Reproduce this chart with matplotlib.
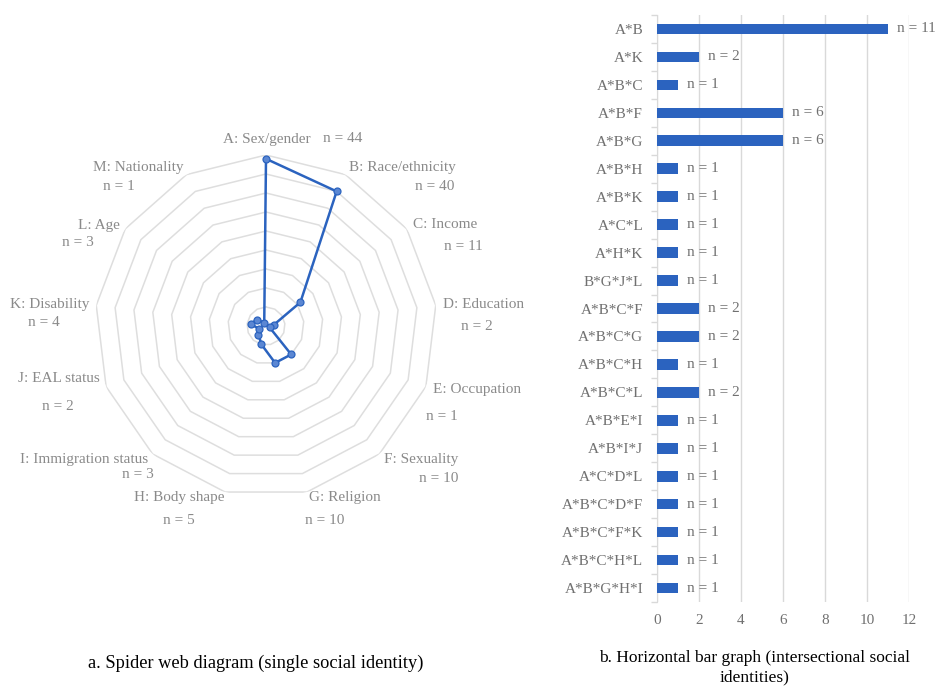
import numpy as np
import matplotlib
matplotlib.use("Agg")
import matplotlib.pyplot as plt

plt.rcParams['font.family'] = ['Liberation Serif', 'DejaVu Serif']

# Spider web data (single social identity)
radar_labels = ["A: Sex/gender", "B: Race/ethnicity", "C: Income", "D: Education",
                "E: Occupation", "F: Sexuality", "G: Religion", "H: Body shape",
                "I: Immigration status", "J: EAL status", "K: Disability", "L: Age",
                "M: Nationality"]
radar_values = [44, 40, 11, 2, 1, 10, 10, 5, 3, 2, 4, 3, 1]
ring_levels = [5, 10, 15, 20, 25, 30, 35, 40, 45]

# Bar data (intersectional social identities)
bar_labels = ["A*B", "A*K", "A*B*C", "A*B*F", "A*B*G", "A*B*H", "A*B*K", "A*C*L",
              "A*H*K", "B*G*J*L", "A*B*C*F", "A*B*C*G", "A*B*C*H", "A*B*C*L",
              "A*B*E*I", "A*B*I*J", "A*C*D*L", "A*B*C*D*F", "A*B*C*F*K",
              "A*B*C*H*L", "A*B*G*H*I"]
bar_values = [11, 2, 1, 6, 6, 1, 1, 1, 1, 1, 2, 2, 1, 2, 1, 1, 1, 1, 1, 1, 1]
x_ticks = [0, 2, 4, 6, 8, 10, 12]

BLUE = '#2b63bf'
GRID = '#d9d9d9'
LABEL_GRAY = '#8a8a8a'
TICK_GRAY = '#707070'

W, H = 935, 686
fig = plt.figure(figsize=(W / 100, H / 100), dpi=100)


def px(x, y):
    return x / W, 1 - y / H


# ---- a. spider web ----
cx, cy, R = 266, 326, 171
ax1 = fig.add_axes([(cx - R) / W, 1 - (cy + R) / H, 2 * R / W, 2 * R / H], polar=True)
ax1.set_theta_zero_location('N')
ax1.set_theta_direction(-1)
n = len(radar_values)
angles = np.linspace(0, 2 * np.pi, n, endpoint=False)
closed = np.append(angles, angles[0])
for lv in ring_levels:
    ax1.plot(closed, [lv] * (n + 1), color='#dedede', lw=1.1, zorder=1)
vals = radar_values + radar_values[:1]
ax1.plot(closed, vals, color=BLUE, lw=1.8, zorder=3)
ax1.plot(angles, radar_values, 'o', ms=5, mfc='#5b87d3', mec=BLUE, mew=0.9, zorder=4)
ax1.set_ylim(0, 45)
ax1.set_xticks([])
ax1.set_yticks([])
ax1.grid(False)
ax1.spines['polar'].set_visible(False)
ax1.patch.set_alpha(0)

# label positions (pixel) for name and count lines
name_pos = [(311, 139, 'right'), (402, 168, 'center'), (445, 225, 'center'),
            (484, 305, 'center'), (477, 389, 'center'), (421, 459, 'center'),
            (345, 498, 'center'), (179, 498, 'center'), (84, 459, 'center'),
            (59, 379, 'center'), (50, 304, 'center'), (99, 225, 'center'),
            (138, 168, 'center')]
count_pos = [(323, 139, 'left'), (435, 186, 'center'), (463, 247, 'center'),
             (477, 327, 'center'), (442, 417, 'center'), (439, 479, 'center'),
             (325, 520, 'center'), (179, 521, 'center'), (138, 474, 'center'),
             (58, 406, 'center'), (44, 323, 'center'), (78, 243, 'center'),
             (119, 186, 'center')]
for i, lab in enumerate(radar_labels):
    x, y, ha = name_pos[i]
    fig.text(*px(x, y), lab, ha=ha, va='center', fontsize=11, color=LABEL_GRAY)
    x, y, ha = count_pos[i]
    fig.text(*px(x, y), f"n = {radar_values[i]}", ha=ha, va='center',
             fontsize=11, color=LABEL_GRAY)

fig.text(*px(256, 663), "a. Spider web diagram (single social identity)",
         ha='center', va='center', fontsize=13.2, color='black')

# ---- b. horizontal bars ----
ax2 = fig.add_axes([657 / W, 1 - 602 / H, 252 / W, 587 / H])
ypos = np.arange(len(bar_values))
ax2.barh(ypos, bar_values, height=0.38, color=BLUE, zorder=3)
ax2.set_ylim(len(bar_values) - 0.5, -0.5)
ax2.set_xlim(0, 12)
ax2.set_xticks(x_ticks)
ax2.set_yticks(ypos)
ax2.set_yticklabels(bar_labels)
ax2.set_yticks(np.arange(len(bar_values) + 1) - 0.5, minor=True)
ax2.tick_params(axis='y', which='major', length=0, pad=10, labelsize=11, labelcolor=TICK_GRAY)
ax2.tick_params(axis='y', which='minor', length=4, color=GRID, width=1)
ax2.tick_params(axis='x', length=0, pad=9, labelsize=11, labelcolor=TICK_GRAY)
ax2.grid(axis='x', color=GRID, lw=1, zorder=0)
for s in ['top', 'right', 'bottom']:
    ax2.spines[s].set_visible(False)
ax2.spines['left'].set_color(GRID)
for yv, v in zip(ypos, bar_values):
    ax2.annotate(f"n = {v}", (v, yv), xytext=(6.5, 0), textcoords='offset points',
                 ha='left', va='center', fontsize=11, color=TICK_GRAY)

fig.text(*px(755, 658), "b. Horizontal bar graph (intersectional social",
         ha='center', va='center', fontsize=12.5, color='black')
fig.text(*px(755, 677), "identities)", ha='center', va='center', fontsize=12.5, color='black')

fig.savefig("out.png", dpi=100, facecolor='white')
